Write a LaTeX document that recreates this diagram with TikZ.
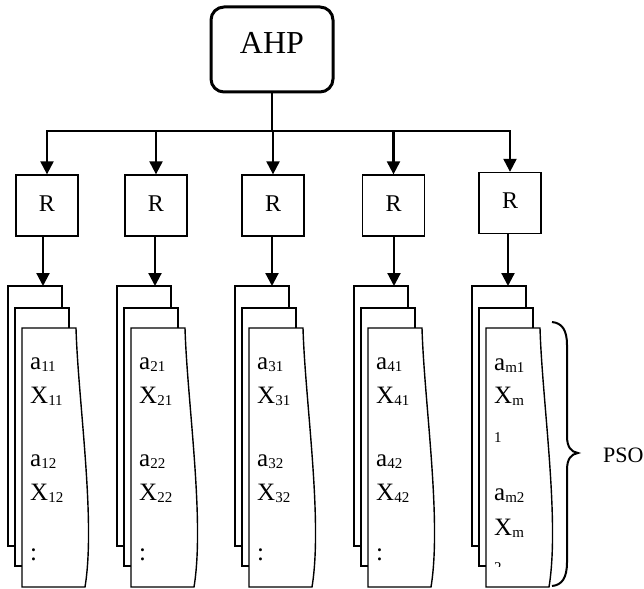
\documentclass[tikz,border=0pt]{standalone}
\usepackage{fontspec}
\setmainfont{Liberation Serif}
\usetikzlibrary{arrows.meta}
% small lowered index, set after a letter
\newcommand\subtxt[1]{\raisebox{-2pt}{\fontsize{15}{15}\selectfont #1}}
\begin{document}
\begin{tikzpicture}[x=1pt,y=-1pt,
  conn/.style={line width=2.2pt, -{Triangle[length=13pt,width=13pt]}},
  wire/.style={line width=2.2pt},
  rbox/.style={draw, line width=1.3pt, minimum width=62pt, minimum height=61pt,
    inner sep=0pt, font=\fontsize{24}{24}\selectfont, text height=17pt, text depth=6pt},
  page/.style={draw, fill=white, line width=1.4pt},
  entry/.style={anchor=base west, inner sep=0pt, font=\fontsize{25}{25}\selectfont},
]
\useasboundingbox (0,0) rectangle (644,588);

% top block
\node[draw, line width=3pt, rounded corners=13pt, minimum width=122pt, minimum height=85pt,
  inner sep=0pt, text height=22pt, text depth=14pt, font=\fontsize{32}{32}\selectfont]
  (ahp) at (272,49.5) {AHP};

% distribution bus
\coordinate (busL) at (47,131);
\coordinate (busR) at (510,131);
\draw[wire] (ahp.south) -- (ahp.south |- busL);
\draw[wire, line cap=rect] (busL) -- (busR);

% R blocks
\node[rbox] (r1) at (47,205.5) {R};
\node[rbox] (r2) at (156,205.5) {R};
\node[rbox] (r3) at (273,205.5) {R};
\node[rbox] (r4) at (393.5,205.5) {R};
\node[rbox] (r5) at (510,203) {R};
\foreach \i in {1,...,5} \draw[conn] (r\i.north |- busL) -- (r\i.north);

% stacks of pages under each R block
\foreach \i/\L/\ax in {1/8/43, 2/117/155, 3/235/272, 4/354/394, 5/472/508} {
  \draw[page] (\L,286) rectangle ++(54,260);
  \draw[page] (\L+7,308) rectangle ++(54,258);
  \draw[page] (\L+14,328) -- (\L+68,328)
     .. controls (\L+70,400) and (\L+88,520) .. (\L+77,587) -- (\L+14,587) -- cycle;
  \coordinate (top\i) at (\ax,286);
  \draw[conn] (r\i.south -| top\i) -- (top\i);
}

% page contents
\foreach \i/\L in {1/8, 2/117, 3/235, 4/354} {
  \node[entry] (a\i1) at (\L+22,369) {a\subtxt{\i1}};
  \node[entry] (x\i1) at (\L+22,403) {X\subtxt{\i1}};
  \node[entry] (a\i2) at (\L+22,466) {a\subtxt{\i2}};
  \node[entry] (x\i2) at (\L+22,500) {X\subtxt{\i2}};
  \node[entry] (d\i) at (\L+22,560) {:};
}
\node[entry] (a51) at (494,370) {a\subtxt{m1}};
\node[entry] (x51) at (494,403) {X\subtxt{m}};
\node[entry] (x51b) at (494,440) {\subtxt{1}};
\node[entry] (a52) at (494,500) {a\subtxt{m2}};
\node[entry] (x52) at (494,535) {X\subtxt{m}};
\begin{scope}
  \clip (480,540) rectangle (545,566);
  \node[entry] (x52b) at (494,570) {\subtxt{2}};
\end{scope}

% brace and its label
\draw[line width=2pt] (552,322) .. controls (562,323) and (567,330) .. (567,345)
  -- (567,436) .. controls (567,447) and (571,452) .. (578,453)
  .. controls (571,454) and (567,459) .. (567,470)
  -- (567,562) .. controls (567,578) and (562,585) .. (552,586);
\node[anchor=west, inner sep=0pt, font=\fontsize{22}{22}\selectfont] (pso) at (603,455) {PSO};
\end{tikzpicture}
\end{document}
